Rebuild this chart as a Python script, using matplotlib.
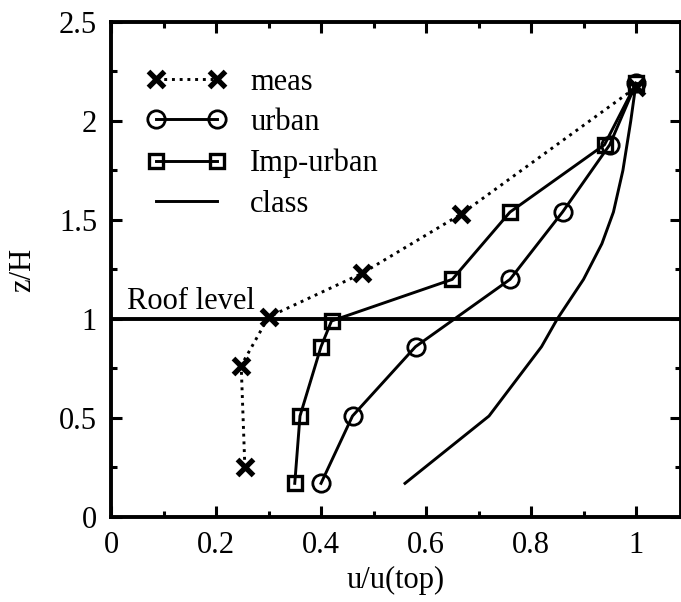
import matplotlib.pyplot as plt
from matplotlib.ticker import MultipleLocator

plt.rcParams['font.family'] = ['Liberation Serif', 'DejaVu Serif']

# normalised wind speed profiles u/u(top) vs z/H
meas_u = [0.255, 0.248, 0.30, 0.478, 0.667, 1.0]
meas_z = [0.25, 0.765, 1.01, 1.23, 1.53, 2.17]

urban_u = [0.40, 0.46, 0.58, 0.76, 0.86, 0.95, 1.0]
urban_z = [0.17, 0.51, 0.86, 1.20, 1.54, 1.88, 2.19]

imp_u = [0.35, 0.36, 0.40, 0.42, 0.65, 0.76, 0.94, 1.0]
imp_z = [0.17, 0.51, 0.86, 0.99, 1.20, 1.54, 1.88, 2.19]

class_u = [0.56, 0.72, 0.82, 0.85, 0.90, 0.935, 0.957, 0.975, 0.99, 1.0]
class_z = [0.17, 0.51, 0.86, 1.00, 1.20, 1.38, 1.54, 1.75, 2.00, 2.19]

roof_z = 1.0

fig = plt.figure(figsize=(6.81, 6.02), dpi=100)
ax = fig.add_axes([0.163, 0.1412, 0.837, 0.8223])

lw = 2.1
ax.plot(meas_u, meas_z, ':', color='black', lw=lw, marker='x', ms=11,
        mew=3.8, label='meas')
ax.plot(urban_u, urban_z, '-', color='black', lw=lw, marker='o', ms=12.5,
        mfc='none', mew=2.0, label='urban')
ax.plot(imp_u, imp_z, '-', color='black', lw=lw, marker='s', ms=10.5,
        mfc='none', mew=2.4, label='Imp-urban')
ax.plot(class_u, class_z, '-', color='black', lw=lw, label='class')

ax.axhline(roof_z, color='black', lw=2.8)
ax.text(0.03, 1.05, 'Roof level', fontsize=22)

ax.set_xlim(0, 1.0857)
ax.set_ylim(0, 2.5)
ax.xaxis.set_minor_locator(MultipleLocator(0.1))
ax.yaxis.set_minor_locator(MultipleLocator(0.25))
ax.set_xticks([0, 0.2, 0.4, 0.6, 0.8, 1.0])
ax.set_xticklabels(['0', '0.2', '0.4', '0.6', '0.8', '1'])
ax.set_yticks([0, 0.5, 1, 1.5, 2, 2.5])
ax.set_yticklabels(['0', '0.5', '1', '1.5', '2', '2.5'])

ax.tick_params(which='both', direction='in', top=True, right=True,
               width=2.2, labelsize=22, pad=10)
ax.tick_params(which='major', length=8)
ax.tick_params(which='minor', length=4)
for s in ax.spines.values():
    s.set_linewidth(2.8)

ax.set_xlabel('u/u(top)', fontsize=22, labelpad=4)
ax.set_ylabel('z/H', fontsize=22, labelpad=16)

ax.legend(loc='upper left', bbox_to_anchor=(0.03, 0.945), frameon=False,
          fontsize=22, numpoints=2, handlelength=2.6, handletextpad=0.8,
          labelspacing=0.38, borderaxespad=0.2)

fig.savefig('out.png', dpi=100)
